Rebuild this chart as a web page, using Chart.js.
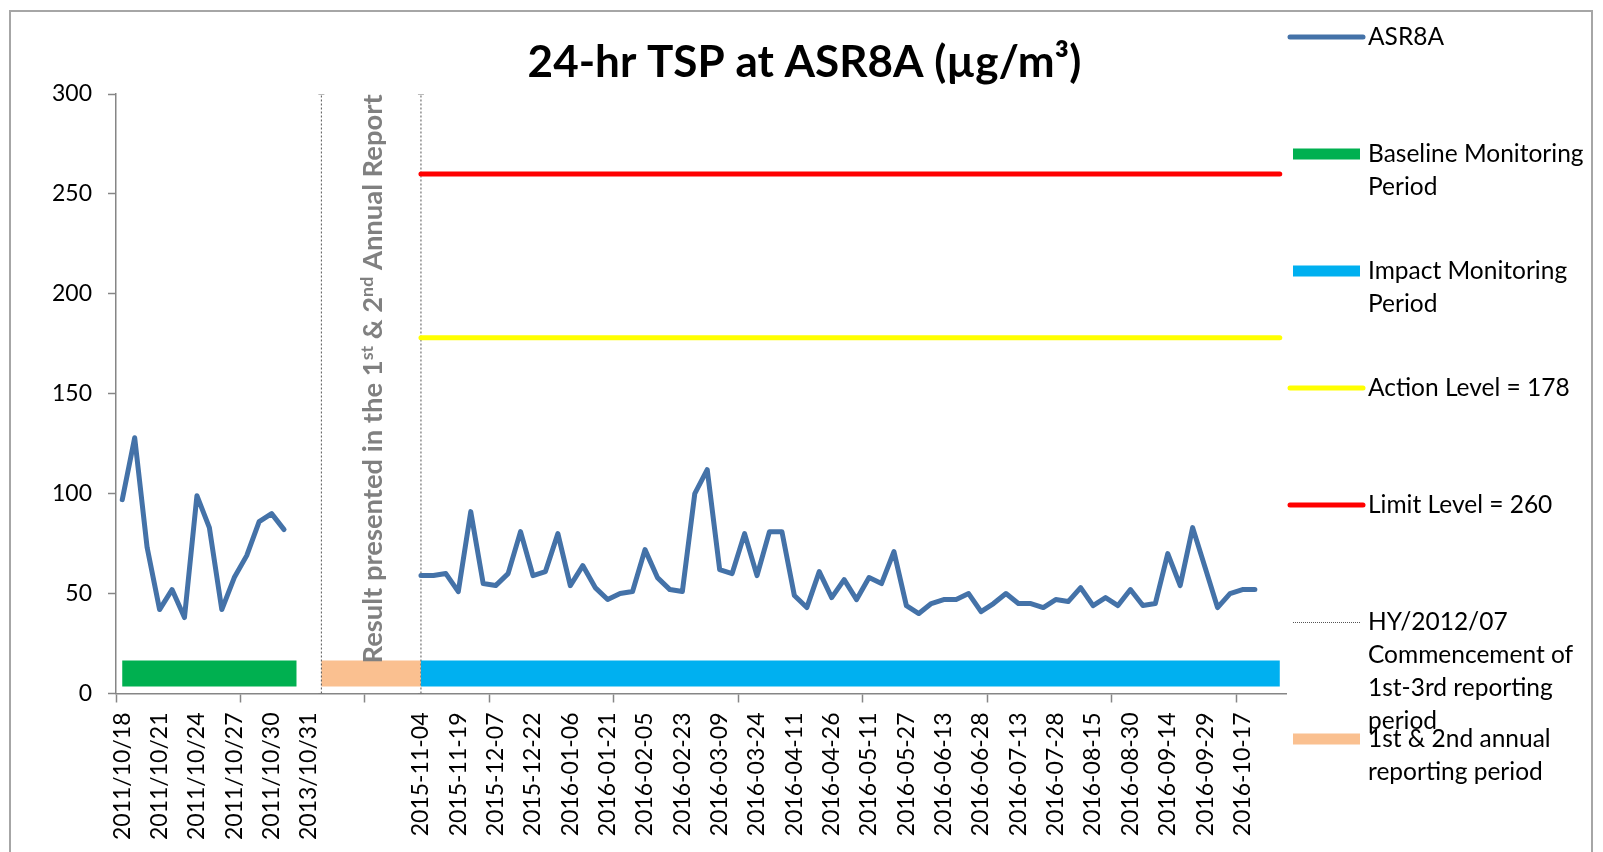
<!DOCTYPE html>
<html>
<head>
<meta charset="utf-8">
<title>24-hr TSP at ASR8A</title>
<script src="https://cdn.jsdelivr.net/npm/chart.js@4.4.1/dist/chart.umd.min.js"></script>
<style>
  html, body { margin: 0; padding: 0; background: #fff; }
  #wrap { width: 1603px; height: 852px; position: relative; }
</style>
</head>
<body>
<div id="wrap"><canvas id="chart-tsp"></canvas></div>
<script>
// one label every 3rd category, blanks where the axis shows nothing
const tickLabels = [
  "2011/10/18", "2011/10/21", "2011/10/24", "2011/10/27", "2011/10/30",
  "2013/10/31", "", "",
  "2015-11-04", "2015-11-19", "2015-12-07", "2015-12-22", "2016-01-06",
  "2016-01-21", "2016-02-05", "2016-02-23", "2016-03-09", "2016-03-24",
  "2016-04-11", "2016-04-26", "2016-05-11", "2016-05-27", "2016-06-13",
  "2016-06-28", "2016-07-13", "2016-07-28", "2016-08-15", "2016-08-30",
  "2016-09-14", "2016-09-29", "2016-10-17", "",
];
const LABEL_EVERY = 3;
const N_CATEGORIES = 94;

// 24-hr TSP (ug/m3), baseline 2011/10/18 - 2011/10/31
const baselineValues = [97, 128, 73, 42, 52, 38, 99, 83, 42, 58, 69, 86, 90, 82];
// impact monitoring from 2015-11-04
const impactValues = [
  59, 59, 60, 51, 91, 55, 54, 60, 81, 59,
  61, 80, 54, 64, 53, 47, 50, 51, 72, 58,
  52, 51, 100, 112, 62, 60, 80, 59, 81, 81,
  49, 43, 61, 48, 57, 47, 58, 55, 71, 44,
  40, 45, 47, 47, 50, 41, 45, 50, 45, 45,
  43, 47, 46, 53, 44, 48, 44, 52, 44, 45,
  70, 54, 83, 63, 43, 50, 52, 52,
];

// periods as category index ranges
const baselinePeriod = [0, 14];
const annualPeriod = [16, 24];
const impactPeriod = [24, 93];
const reportingMarks = [16, 24];
const PERIOD_BAR_LEVEL = 10;

const actionLevel = 178;
const limitLevel = 260;
const Y_MAX = 300;

const chartTitle = "24-hr TSP at ASR8A (µg/m³)";
const annotationParts = [
  ["Result presented in the 1", false],
  ["st", true],
  [" & 2", false],
  ["nd", true],
  [" Annual Report", false],
];

const FONT = "Lato, 'Open Sans', sans-serif";

const categories = tickLabels
  .flatMap((t) => [t, ...Array(LABEL_EVERY - 1).fill("")])
  .slice(0, N_CATEGORIES);

const asr8a = [
  ...baselineValues,
  ...Array(impactPeriod[0] - baselineValues.length).fill(null),
  ...impactValues,
];

const span = ([a, b], y) => [{ x: a, y }, { x: b, y }];

const frameAndLegend = {
  id: "frameAndLegend",
  beforeDraw(chart) {
    const { ctx } = chart;
    ctx.save();
    ctx.fillStyle = "#fff";
    ctx.fillRect(0, 0, chart.width, chart.height);
    ctx.strokeStyle = "#a6a6a6";
    ctx.lineWidth = 2;
    ctx.strokeRect(10, 11, chart.width - 21, chart.height + 20);
    // title, centred on the whole frame
    ctx.fillStyle = "#000";
    ctx.font = `bold 44px ${FONT}`;
    ctx.textAlign = "center";
    ctx.textBaseline = "middle";
    ctx.fillText(chartTitle, chart.width / 2 + 3, 63);
    ctx.restore();
  },
  afterDatasetsDraw(chart) {
    const { ctx } = chart;
    const xs = chart.scales.xv;
    const ys = chart.scales.y;
    const y0 = ys.getPixelForValue(15);
    const len = y0 - ys.getPixelForValue(Y_MAX);
    const base = 28;
    const font = (s) => `bold ${s}px ${FONT}`;
    ctx.save();
    let total = 0;
    for (const [t, sup] of annotationParts) {
      ctx.font = font(sup ? base * 0.65 : base);
      total += ctx.measureText(t).width;
    }
    const size = base * (len / total);
    const x = xs.getPixelForValue(20) + size * 0.36 + 1;
    ctx.translate(x, y0);
    ctx.rotate(-Math.PI / 2);
    ctx.fillStyle = "#808080";
    ctx.textBaseline = "alphabetic";
    ctx.textAlign = "left";
    let pos = 0;
    for (const [t, sup] of annotationParts) {
      ctx.font = font(sup ? size * 0.65 : size);
      ctx.fillText(t, pos, sup ? -size * 0.33 : 0);
      pos += ctx.measureText(t).width;
    }
    ctx.restore();
  },
  afterDraw(chart) {
    const { ctx } = chart;
    const left = 1290, right = 1363, textX = 1368;
    const top = 37, step = 117, lineH = 33;
    ctx.save();
    chart.data.datasets.forEach((ds, i) => {
      const y = top + i * step;
      ctx.beginPath();
      ctx.strokeStyle = ds.borderColor;
      ctx.setLineDash([]);
      if (ds.legendSymbol === "band") {
        ctx.lineWidth = 11;
        ctx.lineCap = "butt";
        ctx.moveTo(left + 3, y);
        ctx.lineTo(right - 3, y);
      } else if (ds.legendSymbol === "dotted") {
        ctx.lineWidth = 1;
        ctx.lineCap = "butt";
        ctx.setLineDash([1, 1]);
        ctx.moveTo(left + 3, y + 0.5);
        ctx.lineTo(right - 3, y + 0.5);
      } else {
        ctx.lineWidth = 5;
        ctx.lineCap = "round";
        ctx.moveTo(left, y);
        ctx.lineTo(right, y);
      }
      ctx.stroke();
      ctx.setLineDash([]);
      ctx.fillStyle = "#000";
      ctx.font = `24.5px ${FONT}`;
      ctx.textBaseline = "middle";
      ds.legendLines.forEach((line, j) => ctx.fillText(line, textX, y + j * lineH));
    });
    ctx.restore();
  },
};

const xv = (ds) => ({ xAxisID: "xv", yAxisID: "y", pointRadius: 0, fill: false, ...ds });

new Chart(document.getElementById("chart-tsp"), {
  type: "line",
  data: {
    labels: categories,
    datasets: [
      {
        label: "ASR8A",
        legendLines: ["ASR8A"],
        legendSymbol: "line",
        data: asr8a,
        xAxisID: "x",
        borderColor: "#4472a8",
        borderWidth: 5,
        borderJoinStyle: "round",
        borderCapStyle: "round",
        pointRadius: 0,
        tension: 0,
      },
      xv({
        label: "Baseline Monitoring Period",
        legendLines: ["Baseline Monitoring", "Period"],
        legendSymbol: "band",
        data: span(baselinePeriod, PERIOD_BAR_LEVEL),
        borderColor: "#00b050",
        borderWidth: 26,
        borderCapStyle: "butt",
      }),
      xv({
        label: "Impact Monitoring Period",
        legendLines: ["Impact Monitoring", "Period"],
        legendSymbol: "band",
        data: span(impactPeriod, PERIOD_BAR_LEVEL),
        borderColor: "#00b0f0",
        borderWidth: 26,
        borderCapStyle: "butt",
      }),
      xv({
        label: `Action Level = ${actionLevel}`,
        legendLines: [`Action Level = ${actionLevel}`],
        legendSymbol: "line",
        data: span(impactPeriod, actionLevel),
        borderColor: "#ffff00",
        borderWidth: 5,
        borderCapStyle: "round",
      }),
      xv({
        label: `Limit Level = ${limitLevel}`,
        legendLines: [`Limit Level = ${limitLevel}`],
        legendSymbol: "line",
        data: span(impactPeriod, limitLevel),
        borderColor: "#ff0000",
        borderWidth: 5,
        borderCapStyle: "round",
      }),
      xv({
        label: "HY/2012/07 Commencement of 1st-3rd reporting period",
        legendLines: ["HY/2012/07", "Commencement of", "1st-3rd reporting", "period"],
        legendSymbol: "dotted",
        data: reportingMarks.flatMap((k) => [{ x: k, y: 0 }, { x: k, y: Y_MAX }, { x: k, y: null }]),
        borderColor: "#555555",
        borderWidth: 1,
        borderDash: [2, 2],
        pointStyle: "line",
        pointRadius: 3,
        pointBorderWidth: 1,
        pointBorderColor: "#777777",
      }),
      xv({
        label: "1st & 2nd annual reporting period",
        legendLines: ["1st & 2nd annual", "reporting period"],
        legendSymbol: "band",
        data: span(annualPeriod, PERIOD_BAR_LEVEL),
        borderColor: "#fac090",
        borderWidth: 26,
        borderCapStyle: "butt",
      }),
    ],
  },
  options: {
    responsive: true,
    maintainAspectRatio: false,
    animation: false,
    spanGaps: false,
    layout: { padding: { top: 94, left: 36, right: 317, bottom: 2 } },
    plugins: {
      legend: { display: false },
      tooltip: { enabled: false },
      title: { display: false },
    },
    scales: {
      x: {
        type: "category",
        offset: true,
        border: { color: "#868686", width: 1.5 },
        grid: {
          offset: true,
          drawOnChartArea: false,
          tickLength: 9,
          tickWidth: 1.5,
          color: (c) => (c.index % 10 === 0 ? "#868686" : "rgba(0,0,0,0)"),
        },
        ticks: {
          autoSkip: false,
          minRotation: 90,
          maxRotation: 90,
          padding: 10,
          color: "#000",
          font: { family: FONT, size: 23 },
        },
      },
      xv: {
        type: "linear",
        display: false,
        min: -0.5,
        max: N_CATEGORIES - 0.5,
      },
      y: {
        min: 0,
        max: Y_MAX,
        border: { color: "#868686", width: 1.5 },
        grid: { drawOnChartArea: false, tickLength: 8, tickWidth: 1.5, color: "#868686" },
        ticks: {
          stepSize: 50,
          padding: 16,
          color: "#000",
          font: { family: FONT, size: 23 },
        },
      },
    },
  },
  plugins: [frameAndLegend],
});
</script>
</body>
</html>
